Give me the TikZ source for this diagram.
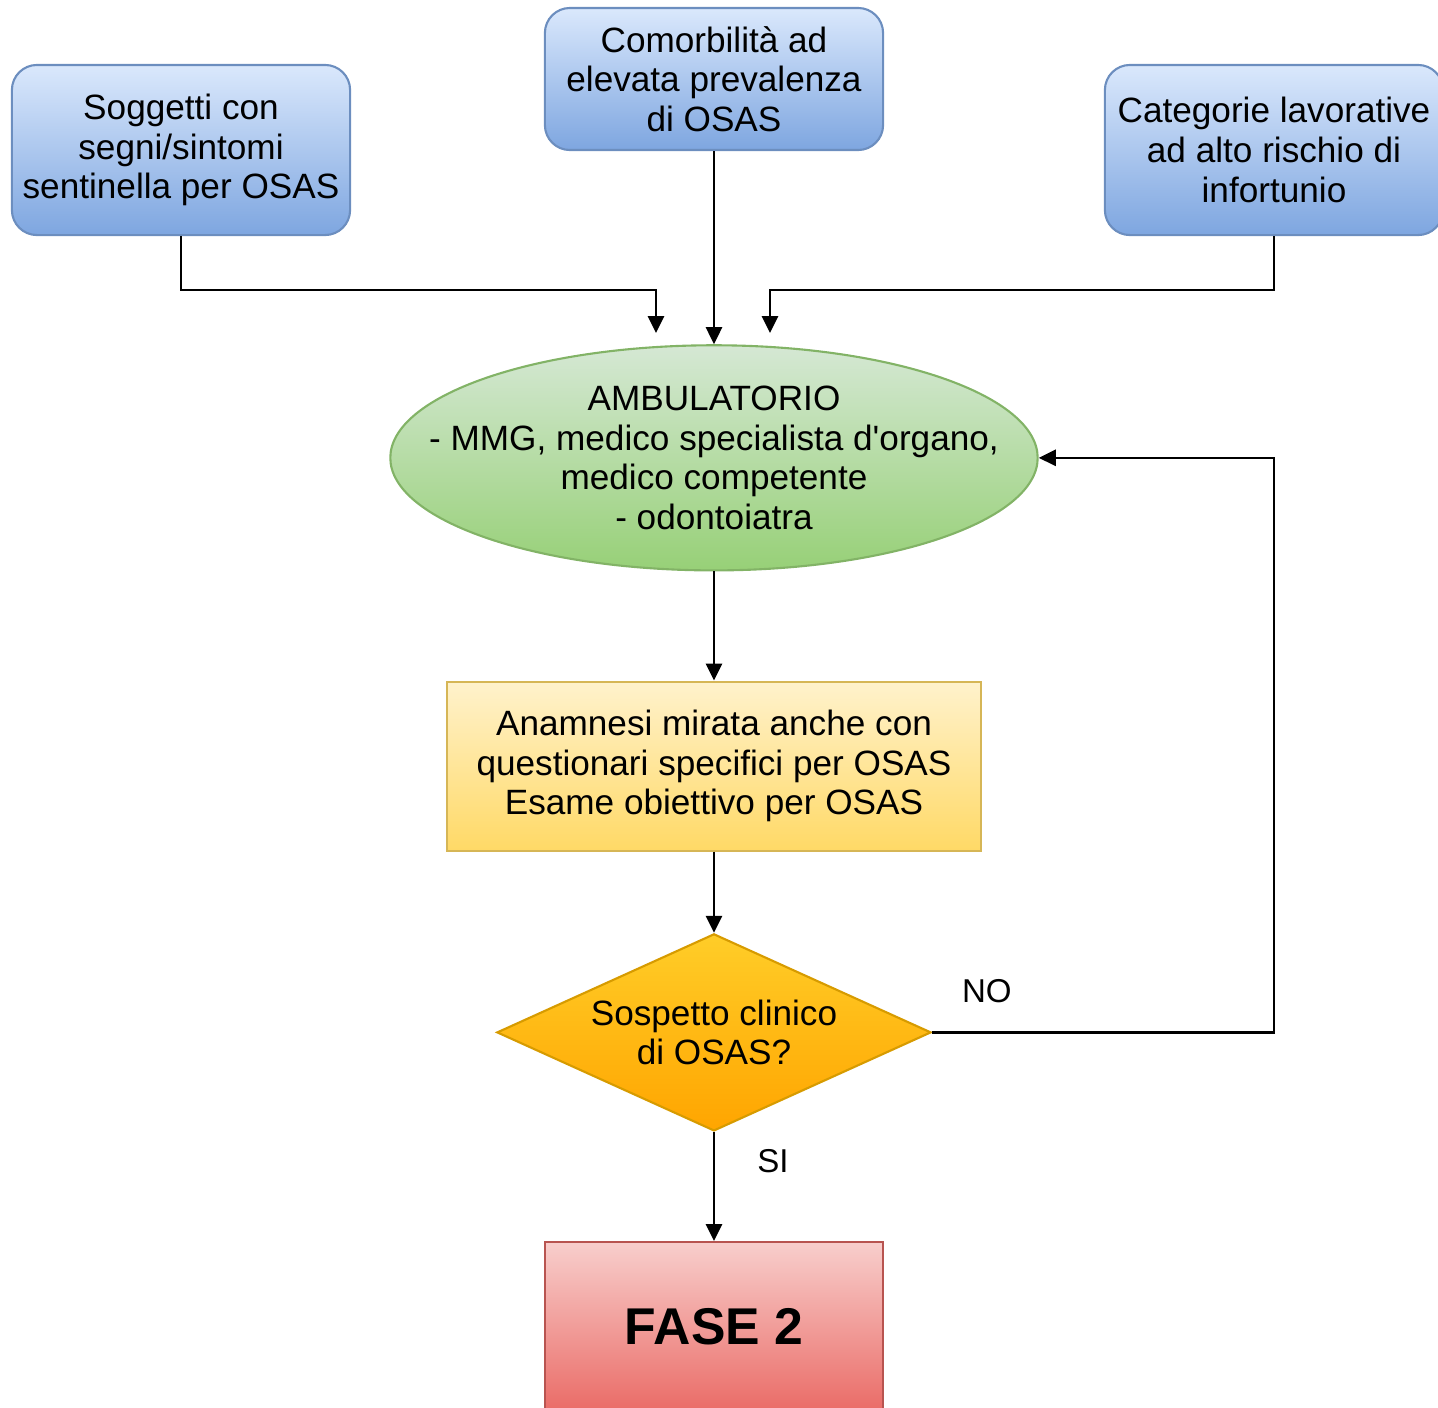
\documentclass[tikz,border=0pt]{standalone}
\usepackage{fontspec}
\setmainfont{Liberation Sans}
\usepackage{xcolor}
\usepackage{tikz}
\usetikzlibrary{arrows.meta, positioning, shapes.geometric}

\definecolor{blueTop}{HTML}{DAE8FC}
\definecolor{blueBot}{HTML}{7EA6E0}
\definecolor{blueLine}{HTML}{6C8EBF}
\definecolor{greenTop}{HTML}{D5E8D4}
\definecolor{greenBot}{HTML}{97D077}
\definecolor{greenLine}{HTML}{82B366}
\definecolor{yelTop}{HTML}{FFF2CC}
\definecolor{yelBot}{HTML}{FFD966}
\definecolor{yelLine}{HTML}{D6B656}
\definecolor{orgTop}{HTML}{FFCD28}
\definecolor{orgBot}{HTML}{FFA500}
\definecolor{orgLine}{HTML}{D79B00}
\definecolor{redTop}{HTML}{F8CECC}
\definecolor{redBot}{HTML}{EA6B66}
\definecolor{redLine}{HTML}{B85450}

\begin{document}
\begin{tikzpicture}[
        x=0.01cm, y=-0.01cm,
        txt/.style = {align=center, inner sep=0pt, font=\fontsize{10}{11.3}\selectfont},
        base/.style = {txt, draw, line width=0.6pt},
        source/.style = {base, rounded corners=0.25cm, draw=blueLine, top color=blueTop, bottom color=blueBot, minimum width=3.38cm, minimum height=1.7cm},
        ambul/.style = {ellipse, draw=greenLine, line width=0.6pt, top color=greenTop, bottom color=greenBot, minimum width=6.47cm, minimum height=2.25cm, inner sep=0pt},
        exam/.style = {base, draw=yelLine, top color=yelTop, bottom color=yelBot, minimum width=5.34cm, minimum height=1.69cm},
        check/.style = {base, diamond, aspect=2.2, draw=orgLine, top color=orgTop, bottom color=orgBot, minimum width=4.34cm, minimum height=1.97cm},
        phase/.style = {base, draw=redLine, top color=redTop, bottom color=redBot, minimum width=3.38cm, minimum height=1.7cm, font=\fontsize{14.7}{17}\selectfont\bfseries},
        edge/.style = {-{Triangle[length=0.17cm, width=0.16cm]}, line width=0.75pt},
        answer/.style = {txt, font=\fontsize{9.4}{11}\selectfont}
    ]
    \useasboundingbox (0,0) rectangle (1438,1408);

    \node[source, minimum height=1.42cm] (comorb) at (714,79) {Comorbilità ad\\elevata prevalenza\\di OSAS};
    \node[source] (sogg) at (181,150) {Soggetti con\\segni/sintomi\\sentinella per OSAS};
    \node[source] (categ) at (1274,150) {Categorie lavorative\\ad alto rischio di\\infortunio};

    \node[ambul, below=1.93cm of comorb] (amb) {};
    \node[txt] (ambtxt) at (amb) {AMBULATORIO\\- MMG, medico specialista d\textquotesingle organo,\\medico competente\\- odontoiatra};
    \node[exam, below=1.09cm of amb] (anam) {Anamnesi mirata anche con\\questionari specifici per OSAS\\Esame obiettivo per OSAS};
    \node[check, below=0.81cm of anam] (susp) {Sospetto clinico\\di OSAS?};
    \node[phase, below=1.09cm of susp] (fase) {FASE 2};

    \coordinate (jL) at (656,290);
    \coordinate (inL) at (656,333);
    \coordinate (jR) at (770,290);
    \coordinate (inR) at (770,333);
    \coordinate (back) at (susp.east -| categ.south);

    \draw[edge] (sogg.south) |- (jL) -- (inL);
    \draw[edge] (comorb) -- (amb);
    \draw[edge] (categ.south) |- (jR) -- (inR);
    \draw[edge] (amb) -- (anam);
    \draw[edge] (anam) -- (susp);
    \draw[edge] (susp.east) -- node[answer, above=0.28cm, pos=0.16] {NO} (back) |- (amb.east);
    \draw[edge] (susp) -- node[answer, right=0.42cm, pos=0.27] {SI} (fase);
\end{tikzpicture}
\end{document}
